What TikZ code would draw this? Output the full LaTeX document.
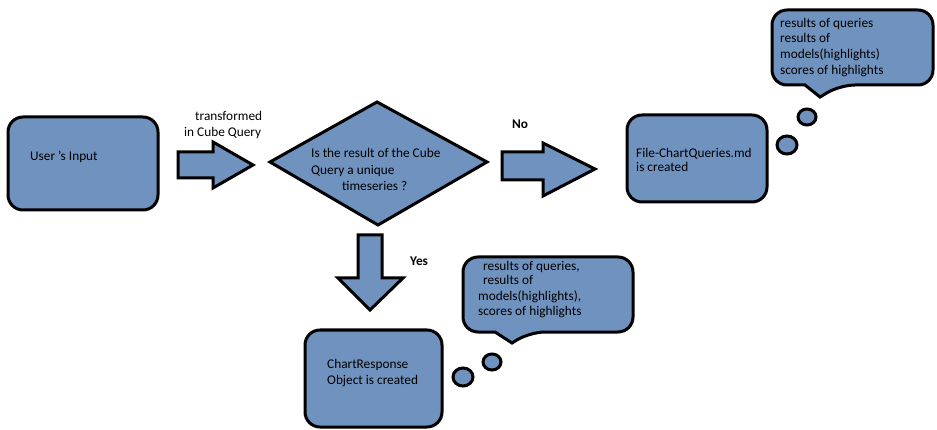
\documentclass[tikz,border=0pt]{standalone}
\usepackage{fontspec}
\setmainfont{Carlito}
\definecolor{paintblue}{RGB}{112,146,190}
\begin{document}
\begin{tikzpicture}[x=1pt,y=-1pt,
  shapeline/.style={draw=black,line width=3pt,fill=paintblue,line join=miter},
  roundbox/.style={shapeline,rounded corners=15pt},
  txt/.style={font=\fontsize{13.3}{16}\selectfont,inner sep=0pt,anchor=base west},
  lbl/.style={txt,font=\fontsize{13.3}{16}\selectfont\bfseries}]
\path[use as bounding box] (0,0) rectangle (937,430);

% boxes
\draw[roundbox] (8,117) rectangle (158,210);
\node[txt] (usertxt) at (30,161) {User 's Input};

\draw[roundbox] (627,115) rectangle (767,202);
\node[txt] (file1) at (636,158) {File-ChartQueries.md};
\node[txt] (file2) at (636,172) {is created};

\draw[roundbox] (305,330) rectangle (442,427);
\node[txt] (chart1) at (327,368) {ChartResponse};
\node[txt] (chart2) at (327,384) {Object is created};

% decision
\draw[shapeline] (270,162) -- (377,102) -- (487,162) -- (378,225) -- cycle;
\node[txt] (q1) at (311,158) {Is the result of the Cube};
\node[txt] (q2) at (311,175) {Query a unique};
\node[txt] (q3) at (342,191) {timeseries ?};

% block arrows
\draw[shapeline] (178,152) -- (213,152) -- (213,142) -- (253,165) -- (213,188) -- (213,178) -- (178,178) -- cycle;
\node[txt] (t1) at (195,121) {transformed};
\node[txt] (t2) at (184,137) {in Cube Query};

\draw[shapeline] (502,152) -- (543,152) -- (543,143) -- (595,169) -- (543,196) -- (543,180) -- (502,180) -- cycle;
\node[lbl] (no) at (512,129) {No};

\draw[shapeline] (358,235) -- (382,235) -- (382,278) -- (403,278) -- (370,310) -- (338,278) -- (358,278) -- cycle;
\node[lbl] (yes) at (410,266) {Yes};

% callout 1
\draw[shapeline] (805,85) [rounded corners=15pt] -- (772,85) -- (772,10) -- (933,10) -- (933,85) -- (840,85) [sharp corners] -- (820,97) -- cycle;
\node[txt] (c1a) at (780,28) {results of queries};
\node[txt] (c1b) at (780,43) {results of};
\node[txt] (c1c) at (780,59) {models(highlights)};
\node[txt] (c1d) at (780,75) {scores of highlights};
\draw[shapeline] (807,117) ellipse [x radius=9, y radius=8];
\draw[shapeline] (787,145) ellipse [x radius=10, y radius=9];

% callout 2
\draw[shapeline] (495,332) [rounded corners=15pt] -- (463,332) -- (463,257) -- (633,257) -- (633,332) -- (530,332) [sharp corners] -- (512,343) -- cycle;
\node[txt] (c2a) at (483,271) {results of queries,};
\node[txt] (c2b) at (483,285) {results of};
\node[txt] (c2c) at (478,301) {models(highlights),};
\node[txt] (c2d) at (478,316) {scores of highlights};
\draw[shapeline] (492,362) ellipse [x radius=9, y radius=8];
\draw[shapeline] (463,377) ellipse [x radius=10, y radius=9];
\end{tikzpicture}
\end{document}
